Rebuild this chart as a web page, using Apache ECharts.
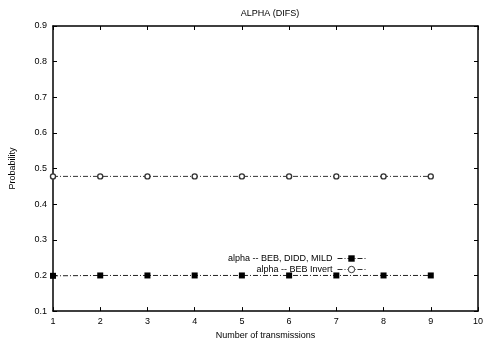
<!DOCTYPE html>
<html><head><meta charset="utf-8">
<script src="https://cdn.jsdelivr.net/npm/echarts@6/dist/echarts.min.js"></script>
<style>html,body{margin:0;padding:0;background:#fff}#c{width:489px;height:345px}</style>
</head><body><div id="c"></div>
<script>
const xValues = [1, 2, 3, 4, 5, 6, 7, 8, 9];
const seriesNames = ['alpha -- BEB, DIDD, MILD', 'alpha -- BEB Invert'];
const bebDiddMild = [0.199, 0.2, 0.2, 0.2, 0.2, 0.2, 0.2, 0.2, 0.2];
const bebInvert = [0.478, 0.478, 0.478, 0.478, 0.478, 0.478, 0.478, 0.478, 0.478];
const xTicks = [1,2,3,4,5,6,7,8,9,10];
const yTicks = [0.1,0.2,0.3,0.4,0.5,0.6,0.7,0.8,0.9];

const font = 'Liberation Sans, Arial, sans-serif';
const axisCommon = {
  axisLine: {show: true, onZero: false, lineStyle: {color: '#000', width: 1.5}},
  axisTick: {show: true, inside: true, length: 4, lineStyle: {color: '#000', width: 1}},
  splitLine: {show: false}
};
const chart = echarts.init(document.getElementById('c'), null, {renderer: 'canvas'});
chart.setOption({
  animation: false,
  backgroundColor: '#fff',
  title: {text: 'ALPHA (DIFS)', left: 265, top: 4, textAlign: 'center',
    textStyle: {fontFamily: font, fontSize: 9, fontWeight: 'normal', color: '#000'}},
  grid: {left: 53, right: 11, top: 26, bottom: 32, containLabel: false},
  legend: {
    orient: 'vertical', right: 123, top: 254, align: 'right', padding: 0,
    itemWidth: 28, itemHeight: 8, itemGap: 2,
    data: seriesNames,
    lineStyle: {width: 1},
    itemStyle: {borderWidth: 1},
    textStyle: {fontFamily: font, fontSize: 9, color: '#000'}
  },
  xAxis: [
    Object.assign({type: 'value', min: 1, max: 10, interval: 1, position: 'bottom',
      name: 'Number of transmissions', nameLocation: 'middle', nameGap: 17,
      nameTextStyle: {fontFamily: font, fontSize: 9, color: '#000'},
      axisLabel: {fontFamily: font, fontSize: 9, color: '#000', margin: 6,
        formatter: v => xTicks.includes(v) ? String(v) : ''}}, axisCommon),
    Object.assign({type: 'value', min: 1, max: 10, interval: 1, position: 'top',
      axisLabel: {show: false}}, axisCommon)
  ],
  yAxis: [
    Object.assign({type: 'value', min: 0.1, max: 0.9, interval: 0.1, position: 'left',
      name: 'Probability', nameLocation: 'middle', nameGap: 36, nameRotate: 90,
      nameTextStyle: {fontFamily: font, fontSize: 9, color: '#000'},
      axisLabel: {fontFamily: font, fontSize: 9, color: '#000', margin: 6,
        formatter: v => v.toFixed(1)}}, axisCommon),
    Object.assign({type: 'value', min: 0.1, max: 0.9, interval: 0.1, position: 'right',
      axisLabel: {show: false}}, axisCommon)
  ],
  series: [
    {name: seriesNames[0], type: 'line', data: xValues.map((x, i) => [x, bebDiddMild[i]]),
      symbol: 'rect', symbolSize: 6, showAllSymbol: true,
      itemStyle: {color: '#000'},
      lineStyle: {color: '#222', width: 1, type: [5, 2, 1, 2]}},
    {name: seriesNames[1], type: 'line', data: xValues.map((x, i) => [x, bebInvert[i]]),
      symbol: 'circle', symbolSize: 5, showAllSymbol: true,
      itemStyle: {color: '#fff', borderColor: '#333', borderWidth: 1.4},
      lineStyle: {color: '#333', width: 1, type: [5, 2, 1, 2]}}
  ]
});
</script></body></html>
